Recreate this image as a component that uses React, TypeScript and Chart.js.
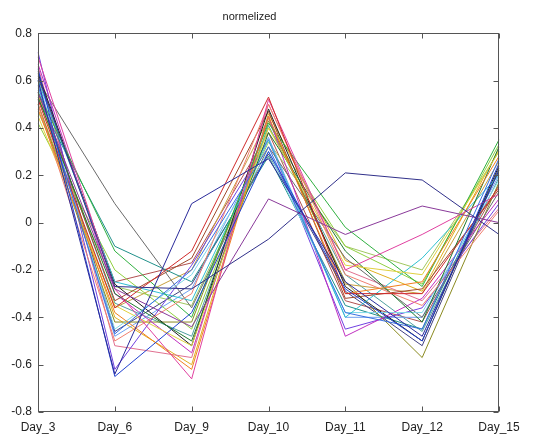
import React, { useEffect, useRef } from "react";
import { Chart, registerables } from "chart.js";

Chart.register(...registerables);

const days = ["Day_3", "Day_6", "Day_9", "Day_10", "Day_11", "Day_12", "Day_15"];

const s01 = [0.6, -0.64, 0.08, 0.27, -0.25, -0.48, 0.22];
const s02 = [0.62, -0.27, -0.28, -0.07, 0.21, 0.18, -0.05];
const s03 = [0.55, -0.28, -0.44, 0.1, -0.05, 0.07, 0.0];
const s04 = [0.65, -0.65, -0.38, 0.3, -0.28, -0.5, 0.25];
const s05 = [0.58, -0.47, -0.2, 0.32, -0.38, -0.45, 0.27];
const s06 = [0.52, -0.36, -0.12, 0.53, -0.3, -0.3, 0.15];
const s07 = [0.7, -0.28, -0.66, 0.52, -0.2, -0.05, 0.12];
const s08 = [0.48, -0.38, -0.62, 0.45, -0.3, -0.25, 0.28];
const s09 = [0.5, -0.5, -0.3, 0.5, -0.22, -0.35, 0.05];
const s10 = [0.45, -0.35, -0.52, 0.4, -0.18, -0.22, 0.3];
const s11 = [0.55, -0.12, -0.4, 0.42, -0.02, -0.27, 0.35];
const s12 = [0.53, -0.3, -0.5, 0.38, -0.12, -0.42, 0.32];
const s13 = [0.6, -0.25, -0.33, 0.35, -0.4, -0.15, 0.2];
const s14 = [0.57, -0.45, -0.22, 0.3, -0.38, -0.38, 0.18];
const s15 = [0.67, -0.3, -0.55, 0.45, -0.48, -0.32, 0.1];
const s16 = [0.63, -0.26, -0.52, 0.48, -0.27, -0.5, 0.24];
const s17 = [0.6, 0.08, -0.36, 0.32, -0.15, -0.4, 0.13];
const s18 = [0.5, -0.42, -0.42, 0.43, -0.25, -0.57, 0.17];
const s19 = [0.52, -0.1, -0.25, 0.28, -0.35, -0.45, 0.22];
const s20 = [0.72, -0.62, -0.18, 0.35, -0.45, -0.36, 0.08];
const s21 = [0.55, -0.33, -0.15, 0.47, -0.32, -0.28, 0.14];
const s22 = [0.42, -0.2, -0.45, 0.4, -0.1, -0.26, 0.33];
const s23 = [0.6, -0.48, -0.28, 0.36, -0.4, -0.4, 0.2];
const s24 = [0.66, -0.52, -0.57, 0.5, -0.2, -0.33, 0.06];
const s25 = [0.5, -0.36, -0.2, 0.44, -0.26, -0.3, 0.26];
const s26 = [0.47, -0.27, -0.35, 0.34, -0.1, -0.2, 0.3];
const s27 = [0.64, -0.46, -0.26, 0.29, -0.29, -0.52, 0.23];
const s28 = [0.56, -0.34, -0.48, 0.41, -0.22, -0.46, 0.19];
const s29 = [0.61, -0.25, -0.17, 0.38, -0.33, -0.42, 0.16];
const s30 = [0.54, -0.4, -0.6, 0.46, -0.16, -0.29, 0.31];

const seriesValues = [s01, s02, s03, s04, s05, s06, s07, s08, s09, s10, s11, s12,
  s13, s14, s15, s16, s17, s18, s19, s20, s21, s22, s23, s24, s25, s26, s27, s28, s29, s30];

const seriesColors = [
  "#2a2a9a", "#30308a", "#8a3a9a", "#2040d0", "#3a70e0", "#d02a2a",
  "#e040a0", "#f08020", "#f08070", "#e0d040", "#30b040", "#207a30",
  "#30c0d0", "#80d8e8", "#c030c0", "#202020", "#6a6a6a", "#8a8a20",
  "#20908a", "#7040e0", "#a04a2a", "#90d040", "#70a0f0", "#e07090",
  "#c8a040", "#a0c860", "#404080", "#50a0a0", "#b05050", "#e0b020",
];

const yTicks = [-0.8, -0.6, -0.4, -0.2, 0, 0.2, 0.4, 0.6, 0.8];

const boxPlugin = {
  id: "matlabBox",
  afterDraw(chart: any) {
    const { ctx, chartArea: a, scales } = chart;
    const L = Math.round(a.left) + 0.5;
    const R = Math.round(a.right) - 0.5;
    const T = Math.round(a.top) + 0.5;
    const B = Math.round(a.bottom) - 0.5;
    ctx.save();
    ctx.strokeStyle = "#555555";
    ctx.lineWidth = 1;
    ctx.strokeRect(L, T, R - L, B - T);
    ctx.beginPath();
    const tl = 5;
    scales.x.ticks.forEach((_t: any, i: number) => {
      const px = Math.round(scales.x.getPixelForTick(i)) + 0.5;
      ctx.moveTo(px, B);
      ctx.lineTo(px, B - tl);
      ctx.moveTo(px, T);
      ctx.lineTo(px, T + tl);
    });
    scales.y.ticks.forEach((_t: any, i: number) => {
      const py = Math.round(scales.y.getPixelForTick(i)) + 0.5;
      ctx.moveTo(L, py);
      ctx.lineTo(L + tl, py);
      ctx.moveTo(R, py);
      ctx.lineTo(R - tl, py);
    });
    ctx.stroke();
    ctx.restore();
  },
};

export default function App() {
  const ref = useRef<HTMLCanvasElement | null>(null);

  useEffect(() => {
    if (!ref.current) return;
    const chart = new Chart(ref.current, {
      type: "line",
      data: {
        labels: days,
        datasets: seriesValues.map((vals, i) => ({
          label: "s" + (i + 1),
          data: vals,
          borderColor: seriesColors[i],
          backgroundColor: seriesColors[i],
          borderWidth: 1,
          pointRadius: 0,
          tension: 0,
          fill: false,
        })),
      },
      options: {
        responsive: false,
        animation: false,
        events: [],
        layout: { padding: { top: 0, left: 0, right: 51, bottom: 0 } },
        plugins: {
          legend: { display: false },
          tooltip: { enabled: false },
          title: {
            display: true,
            text: "normelized",
            color: "#222222",
            font: { family: "'Liberation Sans', Arial, sans-serif", size: 11, weight: "normal" },
            padding: { top: 10, bottom: 10 },
          },
        },
        scales: {
          x: {
            type: "category",
            offset: false,
            grid: { display: false, drawTicks: false },
            border: { display: false },
            ticks: {
              color: "#222222",
              padding: 8,
              maxRotation: 0,
              autoSkip: false,
              font: { family: "'Liberation Sans', Arial, sans-serif", size: 12 },
            },
            afterFit(scale: any) {
              scale.height = 26;
            },
          },
          y: {
            type: "linear",
            min: -0.8,
            max: 0.8,
            grid: { display: false, drawTicks: false },
            border: { display: false },
            afterBuildTicks(scale: any) {
              scale.ticks = yTicks.map((v) => ({ value: v }));
            },
            ticks: {
              color: "#222222",
              padding: 6,
              font: { family: "'Liberation Sans', Arial, sans-serif", size: 12 },
              callback: (v: any) => String(Number(Number(v).toFixed(1))),
            },
            afterFit(scale: any) {
              scale.width = 38;
            },
          },
        },
      },
      plugins: [boxPlugin],
    });
    return () => chart.destroy();
  }, []);

  return (
    <div style={{ position: "fixed", left: 0, top: 0, width: 550, height: 438, background: "#ffffff" }}>
      <canvas ref={ref} width={550} height={438} />
    </div>
  );
}
